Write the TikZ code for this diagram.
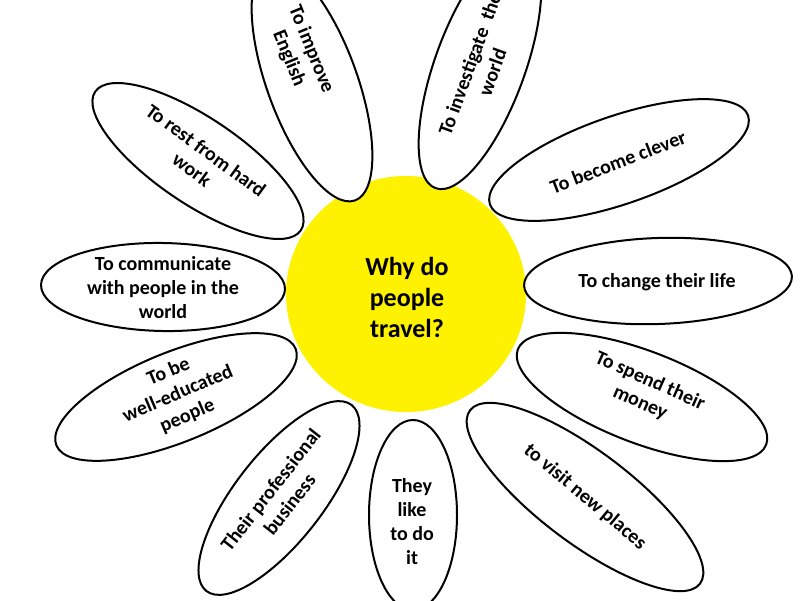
\documentclass[tikz,border=0pt]{standalone}
\usepackage{fontspec}
\setmainfont{Carlito}
\usetikzlibrary{shapes.geometric}
\begin{document}
\begin{tikzpicture}[x=1pt,y=-1pt,
  petal/.style={draw=black, line width=2pt, fill=white, ellipse, inner sep=0pt},
  ptext/.style={font=\bfseries\fontsize{20}{24}\selectfont, align=center, inner sep=0pt, text=black},
  ctext/.style={font=\bfseries\fontsize{26}{31}\selectfont, align=center, inner sep=0pt, text=black},
  ]
\useasboundingbox (0,0) rectangle (800,600);
\clip (0,0) rectangle (800,600);
\fill[white] (0,0) rectangle (800,600);

% centre
\fill[yellow] (406,294) ellipse [x radius=120, y radius=118];
\node[ctext] (center) at (407,297) {Why do\\people\\travel?};

% petals
\node[petal, minimum width=252, minimum height=90, rotate=-70] (p1) at (312,82) {};
\node[ptext, rotate=-68] (t1) at (300,54) {To improve\\English};

\node[petal, minimum width=260, minimum height=90, rotate=70] (p2) at (480,66) {};
\node[ptext, rotate=70] (t2) at (481,68) {To investigate~~the\\world};

\node[petal, minimum width=248, minimum height=86, rotate=-34] (p3) at (198,161) {};
\node[ptext, rotate=-36] (t3) at (199,160) {To rest from hard\\work};

\node[petal, minimum width=273, minimum height=88, rotate=19] (p4) at (619,160) {};
\node[ptext, rotate=21] (t4) at (618,162) {To become clever};

\node[petal, minimum width=244, minimum height=88, rotate=-1] (p5) at (163,287) {};
\node[ptext] (t5) at (163,288) {To communicate\\with people in the\\world};

\node[petal, minimum width=268, minimum height=86, rotate=2] (p6) at (658,281) {};
\node[ptext] (t6) at (657,282) {To change their life};

\node[petal, minimum width=258, minimum height=90, rotate=22] (p7) at (176,397) {};
\node[ptext, rotate=23] (t7) at (178,394) {To be\\well-educated\\people};

\node[petal, minimum width=266, minimum height=92, rotate=-21] (p8) at (642,397) {};
\node[ptext, rotate=-24] (t8) at (645,392) {To spend their\\money};

\node[petal, minimum width=236, minimum height=88, rotate=52] (p9) at (279,498) {};
\node[ptext, rotate=52] (t9) at (280,497) {Their professional\\business};

\node[petal, minimum width=88, minimum height=190] (p10) at (413,515) {};
\node[ptext] (t10) at (412,522) {They\\like\\to do\\it};

\node[petal, minimum width=288, minimum height=92, rotate=-37] (p11) at (585,497) {};
\node[ptext, rotate=-40] (t11) at (585,497) {to visit new places};
\end{tikzpicture}
\end{document}
